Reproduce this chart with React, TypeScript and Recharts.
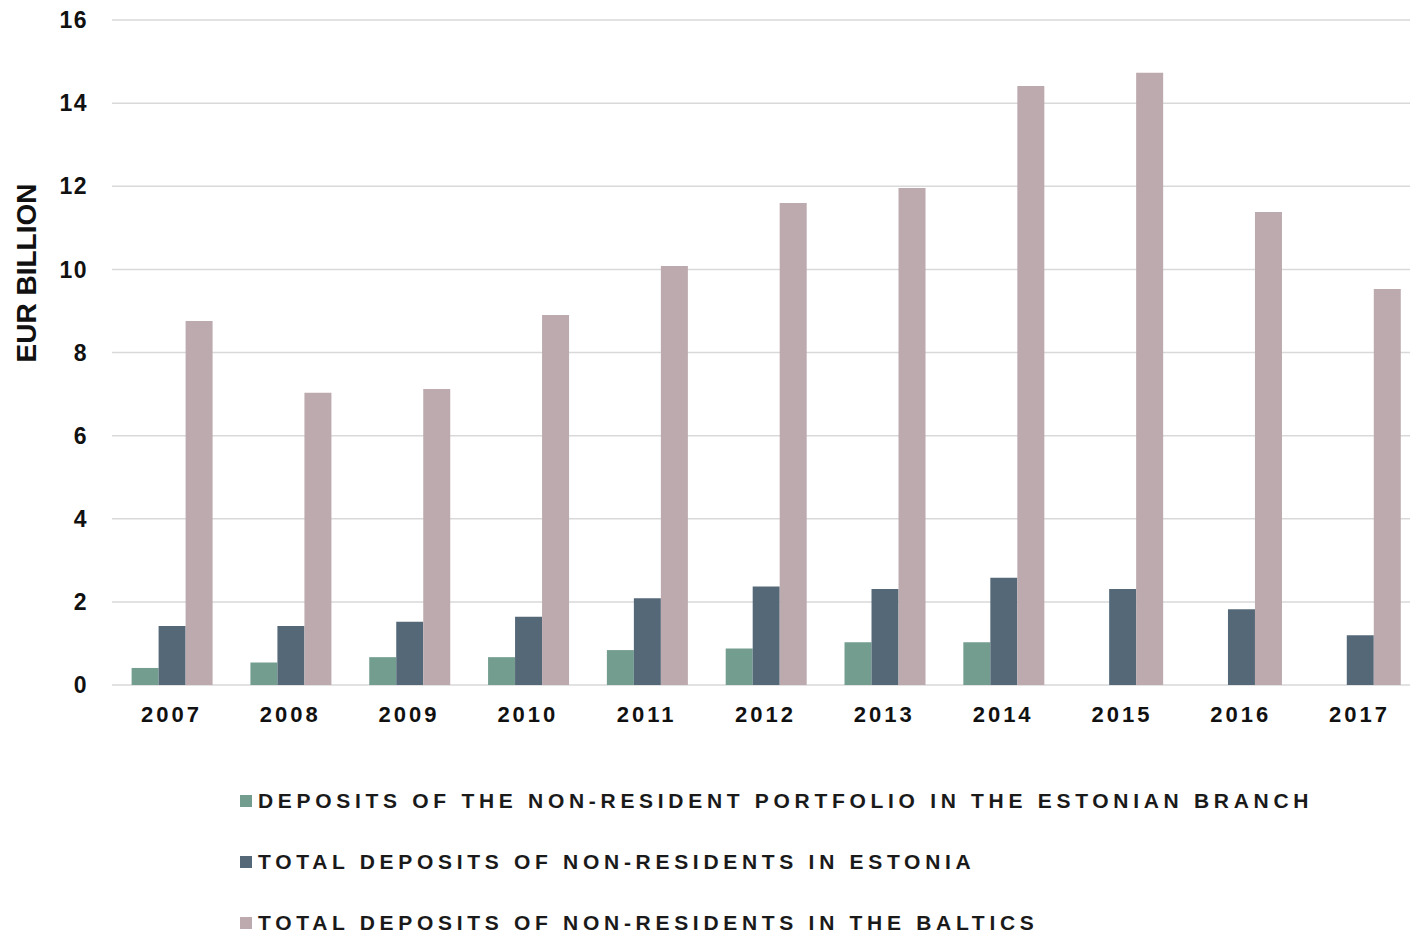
import { BarChart, Bar, XAxis, YAxis, CartesianGrid, Legend } from 'recharts'

const years = ['2007', '2008', '2009', '2010', '2011', '2012', '2013', '2014', '2015', '2016', '2017']
const branchPortfolio = [0.41, 0.54, 0.67, 0.67, 0.84, 0.88, 1.03, 1.03, null, null, null]
const estoniaTotal = [1.42, 1.42, 1.52, 1.64, 2.09, 2.37, 2.31, 2.58, 2.31, 1.82, 1.2]
const balticsTotal = [8.76, 7.03, 7.12, 8.9, 10.08, 11.6, 11.96, 14.41, 14.73, 11.38, 9.53]
const yTicks = [0, 2, 4, 6, 8, 10, 12, 14, 16]

const seriesNames = [
  'DEPOSITS OF THE NON-RESIDENT PORTFOLIO IN THE ESTONIAN BRANCH',
  'TOTAL DEPOSITS OF NON-RESIDENTS IN ESTONIA',
  'TOTAL DEPOSITS OF NON-RESIDENTS IN THE BALTICS',
]
const colors = ['#739e8f', '#546878', '#bcaaae']

const data = years.map((year, i) => ({
  year,
  branch: branchPortfolio[i],
  estonia: estoniaTotal[i],
  baltics: balticsTotal[i],
}))

const font = '"Liberation Sans", Arial, sans-serif'

function LegendRows() {
  return (
    <div style={{ fontFamily: font, height: 150 }}>
      {seriesNames.map((name, i) => (
        <div
          key={name}
          style={{ display: 'flex', alignItems: 'center', height: 61, whiteSpace: 'nowrap' }}
        >
          <span style={{ width: 12, height: 12, background: colors[i], marginRight: 6 }} />
          <span style={{ fontSize: 21, fontWeight: 'bold', letterSpacing: 4.7, color: '#1a1a1a' }}>
            {name}
          </span>
        </div>
      ))}
    </div>
  )
}

function AxisTitle(props: any) {
  const vb = props.viewBox
  const x = 26
  const y = vb.y + 253
  return (
    <text
      x={x}
      y={y}
      transform={`rotate(-90, ${x}, ${y})`}
      textAnchor="middle"
      dominantBaseline="central"
      fontFamily={font}
      fontWeight="bold"
      fontSize={28}
      fill="#111"
    >
      EUR BILLION
    </text>
  )
}

export default function App() {
  return (
    <div
      style={{
        position: 'absolute',
        left: 0,
        top: 0,
        width: 1410,
        height: 933,
        overflow: 'hidden',
        background: '#fff',
      }}
    >
      <BarChart
        width={1419}
        height={933}
        data={data}
        margin={{ top: 20, right: 0, left: 0, bottom: 38 }}
        barGap={0}
        barCategoryGap="16.5%"
      >
        <CartesianGrid vertical={false} stroke="#d9d9d9" strokeWidth={1.5} />
        <XAxis
          dataKey="year"
          axisLine={false}
          tickLine={false}
          tickSize={0}
          tickMargin={21}
          height={60}
          tick={{ fill: '#111', fontSize: 22, fontWeight: 'bold', fontFamily: font, letterSpacing: 3 }}
        />
        <YAxis
          width={112}
          domain={[0, 16]}
          ticks={yTicks}
          axisLine={false}
          tickLine={false}
          tickSize={0}
          tickMargin={24}
          tick={{ fill: '#111', fontSize: 23, fontWeight: 'bold', fontFamily: font, letterSpacing: 1.5 }}
          label={<AxisTitle />}
        />
        <Legend
          verticalAlign="bottom"
          content={<LegendRows />}
          wrapperStyle={{ left: 240, top: 770, bottom: 'auto', width: 'auto' }}
        />
        <Bar dataKey="branch" name={seriesNames[0]} fill={colors[0]} isAnimationActive={false} />
        <Bar dataKey="estonia" name={seriesNames[1]} fill={colors[1]} isAnimationActive={false} />
        <Bar dataKey="baltics" name={seriesNames[2]} fill={colors[2]} isAnimationActive={false} />
      </BarChart>
    </div>
  )
}
